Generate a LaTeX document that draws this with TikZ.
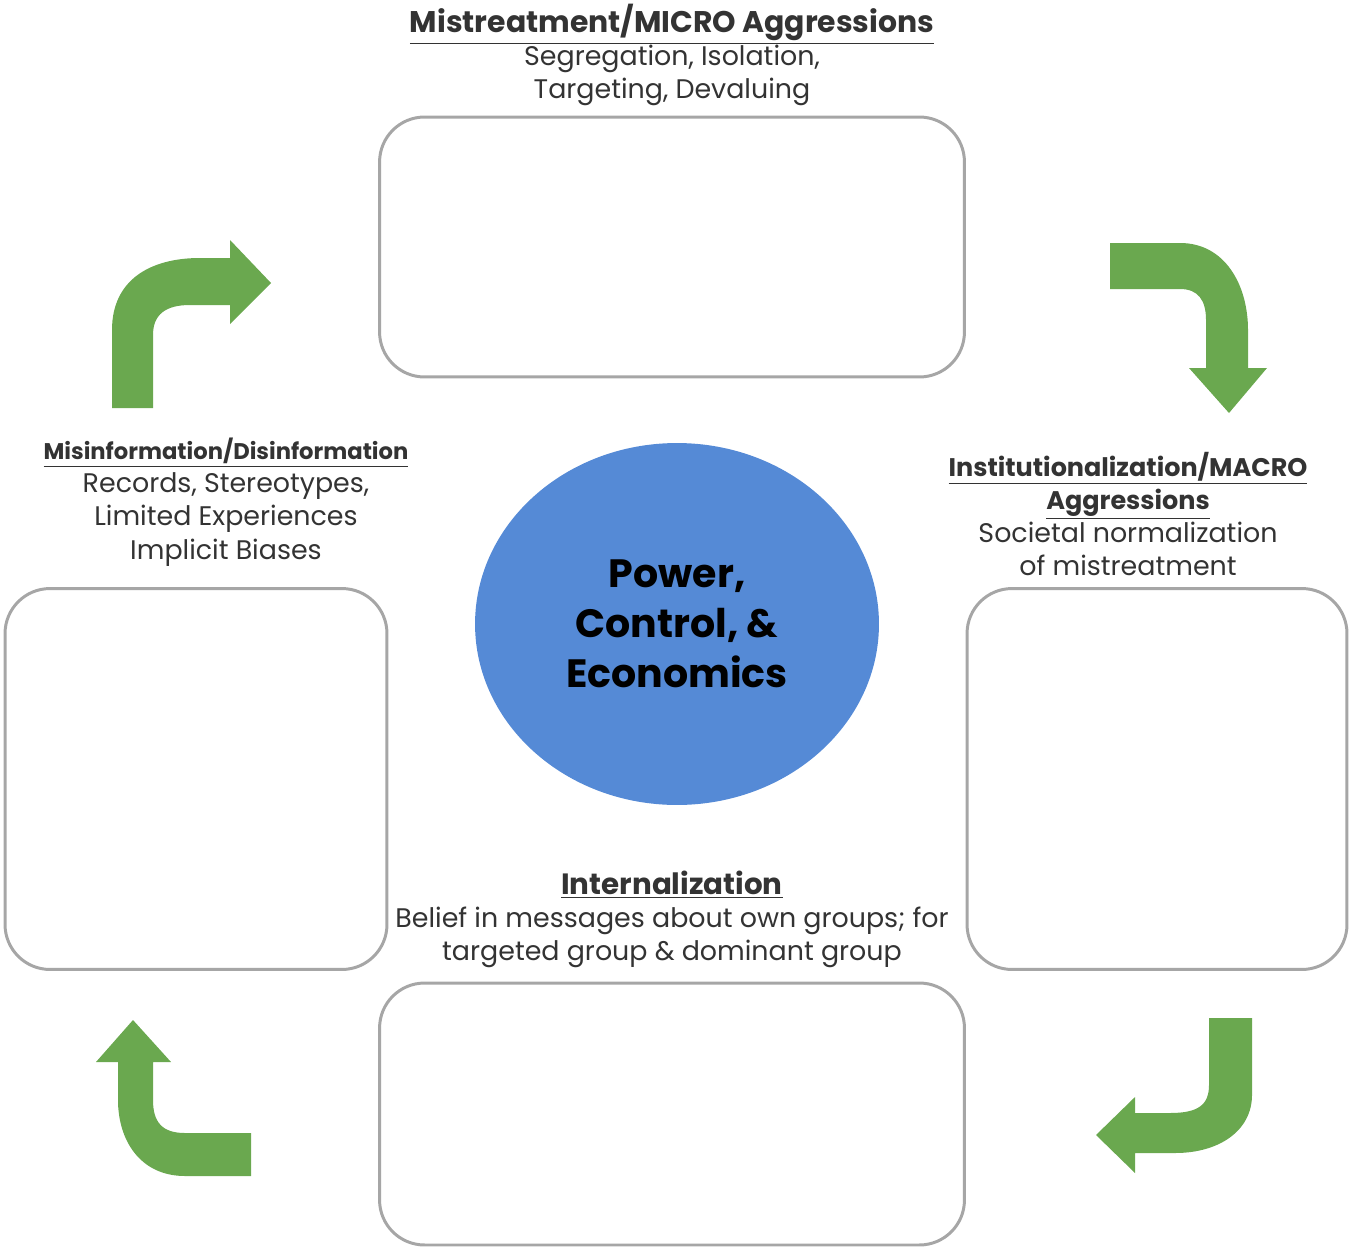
\documentclass[tikz,border=0pt]{standalone}
\usepackage{fontspec}
\setmainfont{Poppins}
\usepackage{xcolor}
\usetikzlibrary{shapes,positioning,calc}

\definecolor{boxgray}{HTML}{A6A6A6}
\definecolor{cyclegreen}{HTML}{6AA84F}
\definecolor{coreblue}{HTML}{558AD6}

\newcommand{\ttl}[1]{\textbf{\underline{#1}}}

\begin{document}
\begin{tikzpicture}[x=0.02cm, y=-0.02cm, thick]
    % Styles
    \tikzstyle{stage box} = [draw=boxgray, line width=1.7pt, rounded corners=0.9cm, fill=white]
    \tikzstyle{core} = [ellipse, fill=coreblue, minimum width=8.08cm, minimum height=7.24cm, align=center, font=\fontsize{22.5}{28.5}\selectfont\bfseries]
    \tikzstyle{label} = [align=center, font=\fontsize{15.3}{18.8}\selectfont, text=black!80]

    \tikzstyle{cycle arrow} = [fill=cyclegreen, draw=none]

    \useasboundingbox (0,0) rectangle (1351,1247);

    % Boxes
    \node [stage box, minimum width=11.7cm, minimum height=5.2cm] (Micro) at (672,247) {};
    \node [stage box, minimum width=7.64cm, minimum height=7.62cm] (Misinfo) at (196,779) {};
    \node [stage box, minimum width=7.6cm, minimum height=7.62cm] (Macro) at (1157,779) {};
    \node [stage box, minimum width=11.7cm, minimum height=5.24cm] (Internal) at (672,1114) {};

    % Centre
    \node [core] (Power) at (677,624) {Power,\\Control, \&\\Economics};

    % Labels
    \node [label, above=0.06cm of Micro] (MicroText) {{\fontsize{17}{19}\selectfont\ttl{Mistreatment/MICRO Aggressions}}\\Segregation, Isolation,\\Targeting, Devaluing};
    \node [label, above=0.29cm of Misinfo, xshift=0.6cm] (MisinfoText) {{\fontsize{12.9}{18.8}\selectfont\ttl{Misinformation/Disinformation}}\\Records, Stereotypes,\\Limited Experiences\\Implicit Biases};
    \node [label, above=0.1cm of Macro, xshift=-0.58cm] (MacroText) {{\fontsize{14.5}{18.8}\selectfont\ttl{Institutionalization/MACRO}}\\{\fontsize{14.5}{18.8}\selectfont\ttl{Aggressions}}\\Societal normalization\\of mistreatment};
    \node [label, above=0.14cm of Internal] (InternalText) {{\fontsize{16.7}{19}\selectfont\ttl{Internalization}}\\Belief in messages about own groups; for\\targeted group \& dominant group};

    % Arrows
    \fill [cycle arrow] (112,408) -- (112,330) .. controls (112,280) and (150,258) .. (200,258)
        -- (230,258) -- (230,240) -- (271,283) -- (230,324) -- (230,305) -- (190,305)
        .. controls (165,305) and (153,315) .. (153,335) -- (153,408) -- cycle;
    \fill [cycle arrow] (1110,243) -- (1180,243) .. controls (1225,243) and (1248,285) .. (1248,330)
        -- (1248,368) -- (1267,368) -- (1229,413) -- (1189,368) -- (1206,368) -- (1206,320)
        .. controls (1206,300) and (1198,289) .. (1180,289) -- (1110,289) -- cycle;
    \fill [cycle arrow] (1209,1018) -- (1252,1018) -- (1252,1095) .. controls (1252,1130) and (1220,1153) .. (1175,1153)
        -- (1135,1153) -- (1135,1173) -- (1096,1135) -- (1135,1097) -- (1135,1113) -- (1170,1113)
        .. controls (1198,1113) and (1209,1105) .. (1209,1085) -- cycle;
    \fill [cycle arrow] (251,1133) -- (251,1176) -- (185,1176) .. controls (140,1176) and (118,1140) .. (118,1100)
        -- (118,1062) -- (96,1062) -- (133,1020) -- (171,1062) -- (153,1062) -- (153,1100)
        .. controls (153,1122) and (162,1133) .. (185,1133) -- cycle;
\end{tikzpicture}
\end{document}
